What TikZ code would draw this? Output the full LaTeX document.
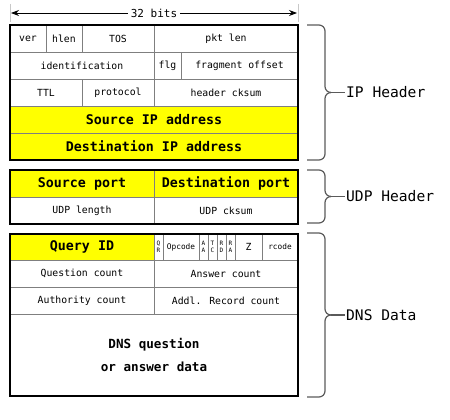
\documentclass[tikz,border=0pt]{standalone}
\usepackage{fontspec}
\setmainfont{DejaVu Sans Mono}
\usetikzlibrary{arrows.meta}
\definecolor{hilite}{HTML}{FFFF00}
\definecolor{rulegray}{HTML}{7F7F7F}
\definecolor{bracegray}{HTML}{5A5A5A}
\definecolor{tickgray}{HTML}{C8C8C8}
% one header field: name, first bit, last bit (exclusive), top y, bottom y, style, text
\newcommand\fieldbox[7]{%
  \node[field,#6,minimum width={9*(#3-#2)*1pt},minimum height={(#5-#4)*1pt}]
    (#1) at ({10+4.5*(#2+#3)},{(#4+#5)/2}) {#7};}
% square-cornered curly brace with its label: prefix, top y, bottom y, text
\newcommand\groupbrace[4]{%
  \coordinate (#1top) at (307,#2);
  \coordinate (#1bot) at (307,#3);
  \coordinate (#1up) at (325,{(#2+#3)/2-6});
  \coordinate (#1lo) at (325,{(#2+#3)/2+6});
  \coordinate (#1tip) at (331,{(#2+#3)/2});
  \node[grplabel] (#1lbl) at (346,{(#2+#3)/2}) {#4};
  \draw[grp] (#1top) -- ++(12,0) to[out=0,in=90] ++(6,6)
    -- (#1up) to[out=-90,in=180] (#1tip);
  \draw[grp] (#1bot) -- ++(12,0) to[out=0,in=-90] ++(6,-6)
    -- (#1lo) to[out=90,in=180] (#1tip);
  \draw[grp,shorten >=1.5pt] (#1tip) -- (#1lbl.west);}
\tikzset{
  field/.style={draw=rulegray,line width=0.8pt,inner sep=0pt,align=center,
    font=\fontsize{9.8}{11}\selectfont},
  hot/.style={fill=hilite,font=\fontsize{13.3}{15}\bfseries\selectfont},
  big/.style={font=\fontsize{12.6}{23}\bfseries\selectfont},
  flagbit/.style={font=\fontsize{6}{7}\selectfont},
  smallfld/.style={font=\fontsize{7.8}{9}\selectfont},
  outline/.style={draw=black,line width=1.7pt},
  grp/.style={draw=bracegray,line width=1.2pt},
  grplabel/.style={anchor=west,inner sep=0pt,font=\fontsize{14.6}{16}\selectfont},
}
\begin{document}
\begin{tikzpicture}[x=1pt,y=-1pt]
\useasboundingbox (0,0) rectangle (450,420);

% width marker
\coordinate (tl) at (10,4);  \coordinate (tlb) at (10,22);
\coordinate (tr) at (298,4); \coordinate (trb) at (298,22);
\draw[tickgray,line width=1pt] (tl) -- (tlb) (tr) -- (trb);
\coordinate (wl) at (11,13); \coordinate (wr) at (297,13);
\draw[line width=0.9pt,{Stealth[length=8pt,width=6pt]}-{Stealth[length=8pt,width=6pt]}]
  (wl) -- node[fill=white,inner sep=3pt,font=\fontsize{11}{12}\selectfont] (bits) {32 bits} (wr);

% IP header
\fieldbox{ver}{0}{4}{25}{52}{}{ver}
\fieldbox{hlen}{4}{8}{25}{52}{}{hlen}
\fieldbox{tos}{8}{16}{25}{52}{}{TOS}
\fieldbox{pktlen}{16}{32}{25}{52}{}{pkt len}
\fieldbox{ident}{0}{16}{52}{79}{}{identification}
\fieldbox{flg}{16}{19}{52}{79}{}{flg}
\fieldbox{fragoff}{19}{32}{52}{79}{}{fragment offset}
\fieldbox{ttl}{0}{8}{79}{106}{}{TTL}
\fieldbox{proto}{8}{16}{79}{106}{}{protocol}
\fieldbox{hcksum}{16}{32}{79}{106}{}{header cksum}
\fieldbox{srcip}{0}{32}{106}{133}{hot}{Source IP address}
\fieldbox{dstip}{0}{32}{133}{160}{hot}{Destination IP address}
\draw[outline] (10,25) rectangle (298,160);

% UDP header
\fieldbox{srcport}{0}{16}{170}{197}{hot}{Source port}
\fieldbox{dstport}{16}{32}{170}{197}{hot}{Destination port}
\fieldbox{udplen}{0}{16}{197}{224}{}{UDP length}
\fieldbox{udpck}{16}{32}{197}{224}{}{UDP cksum}
\draw[outline] (10,170) rectangle (298,224);

% DNS data
\fieldbox{qid}{0}{16}{234}{260}{hot}{Query ID}
\fieldbox{qr}{16}{17}{234}{260}{flagbit}{Q\\R}
\fieldbox{opcode}{17}{21}{234}{260}{smallfld}{Opcode}
\fieldbox{aa}{21}{22}{234}{260}{flagbit}{A\\A}
\fieldbox{tc}{22}{23}{234}{260}{flagbit}{T\\C}
\fieldbox{rd}{23}{24}{234}{260}{flagbit}{R\\D}
\fieldbox{ra}{24}{25}{234}{260}{flagbit}{R\\A}
\fieldbox{zf}{25}{28}{234}{260}{}{Z}
\fieldbox{rcode}{28}{32}{234}{260}{smallfld}{rcode}
\fieldbox{qcount}{0}{16}{260}{287}{}{Question count}
\fieldbox{acount}{16}{32}{260}{287}{}{Answer count}
\fieldbox{authc}{0}{16}{287}{314}{}{Authority count}
\fieldbox{addlc}{16}{32}{287}{314}{}{Addl. Record count}
\fieldbox{qdata}{0}{32}{314}{396}{big}{DNS question\\or answer data}
\draw[outline] (10,234) rectangle (298,396);

% group braces
\groupbrace{ip}{25}{160}{IP Header}
\groupbrace{udp}{170}{223}{UDP Header}
\groupbrace{dns}{233}{397}{DNS Data}
\end{tikzpicture}
\end{document}
